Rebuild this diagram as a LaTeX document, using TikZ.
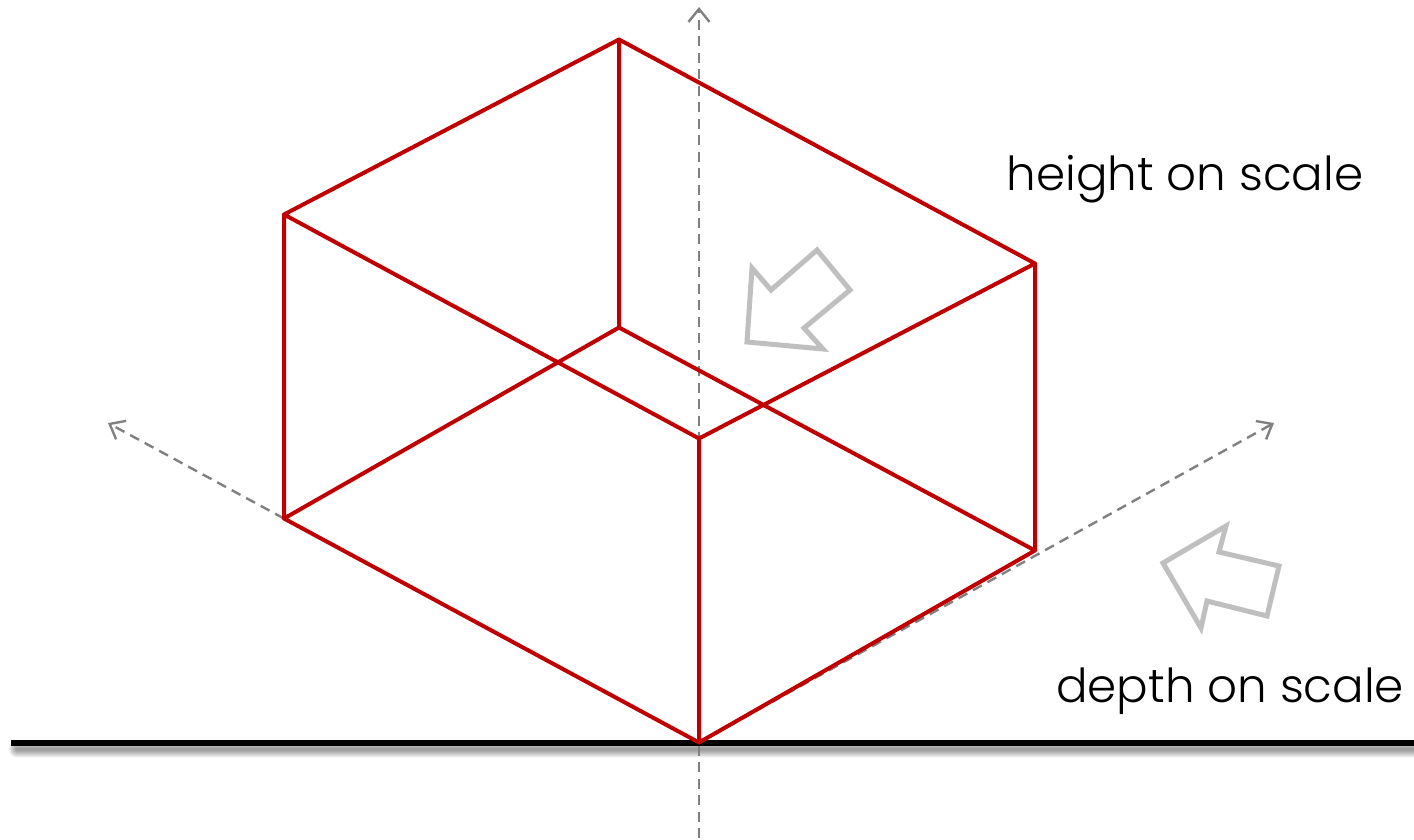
\documentclass[tikz,border=0pt]{standalone}
\usepackage{fontspec}
\setmainfont{Poppins}[UprightFont=*-Light]
\usetikzlibrary{arrows.meta}
\definecolor{boxred}{RGB}{192,0,0}
\tikzset{
  axisline/.style={draw=black!50,line width=2.4pt,dash pattern=on 10pt off 6.5pt,-{Straight Barb[length=13pt,width=21pt,line width=2.4pt]}},
  boxedge/.style={draw=boxred,line width=4pt,line cap=round,line join=round},
  blockarrow/.style={draw=black!25,line width=5pt,fill=white,miter limit=10},
  caption/.style={font=\fontsize{46.8}{52}\selectfont,inner sep=0pt,anchor=base west}
}
\begin{document}
\begin{tikzpicture}[x=1pt,y=-1pt]
\useasboundingbox (0,0) rectangle (1414,839);
\fill[white] (0,0) rectangle (1414,839);
\coordinate (A) at (619,39.5);
\coordinate (B) at (284,214.5);
\coordinate (C) at (1035,263.5);
\coordinate (D) at (699,438.5);
\coordinate (E) at (619,327.5);
\coordinate (F) at (284,518.5);
\coordinate (G) at (1035,550.5);
\coordinate (H) at (699,742.5);
\coordinate (vb) at (699,838);
\coordinate (vt) at (699,7);
\coordinate (lt) at (108,423);
\coordinate (rt) at (1274,423);
\coordinate (gl) at (11,743);
\coordinate (gr) at (1414,743);
\coordinate (sl) at (17,749);
\coordinate (sr) at (1430,749);
% ground shadow
\begin{scope}
\clip (0,0) rectangle (1414,839);
\foreach \w in {2,3,...,17}{
  \draw[black,opacity=0.026,line width=\w pt,line cap=round] (sl) -- (sr);
}
\end{scope}
% axes
\draw[axisline] (vb) -- (vt);
\draw[axisline] (F) -- (lt);
\draw[axisline] (H) -- (rt);
% ground
\draw[black,line width=5.5pt] (gl) -- (gr);
% block arrows
\draw[blockarrow] (752,268) -- (771,290) -- (817,250) -- (850,290) -- (804,328) -- (823,349) -- (747,342) -- cycle;
\draw[blockarrow] (1163,563) -- (1226,526) -- (1219,552) -- (1279,566) -- (1267,616) -- (1207,601) -- (1201,628) -- cycle;
% box
\draw[boxedge] (A) -- (B) (A) -- (C) (B) -- (D) (D) -- (C) (A) -- (E) (E) -- (F) (E) -- (G) (B) -- (F) (C) -- (G) (D) -- (H) (F) -- (H) (G) -- (H);
% labels
\node[caption] (h) at (1006.5,190) {height on scale};
\node[caption] (d) at (1056,702) {depth on scale};
\end{tikzpicture}
\end{document}
